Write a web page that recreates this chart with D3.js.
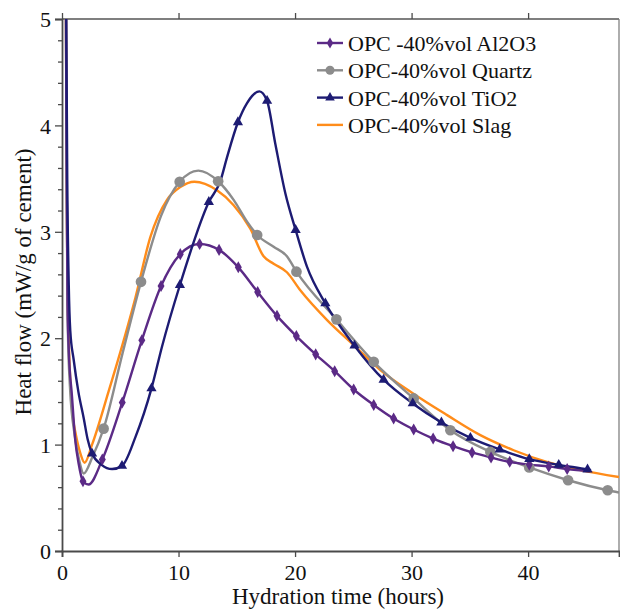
<!DOCTYPE html>
<html><head><meta charset="utf-8">
<script src="https://cdn.jsdelivr.net/npm/d3@7"></script>
<style>body{margin:0;background:#fff}svg{display:block}</style>
</head><body>
<svg id="c" width="620" height="612"></svg>
<script>
// ---- data ----
const seriesNames = ["OPC -40%vol Al2O3","OPC-40%vol Quartz","OPC-40%vol TiO2","OPC-40%vol Slag"];
const xTicks = [0,10,20,30,40];
const yTicks = [0,1,2,3,4,5];

// Al2O3 (purple, diamonds)
const al2o3Markers = [[1.80,0.655],[3.46,0.86],[5.17,1.395],[6.85,1.98],[8.5,2.49],[10.15,2.79],[11.81,2.885],[13.48,2.83],[15.13,2.666],[16.79,2.434],[18.45,2.21],[20.11,2.02],[21.77,1.848],[23.4,1.69],[25.03,1.518],[26.75,1.373],[28.46,1.245],[30.18,1.142],[31.85,1.057],[33.56,0.985],[35.19,0.926],[36.82,0.879],[38.42,0.838],[40.1,0.812],[41.77,0.795],[43.35,0.77]];
const al2o3Extra = [[0.33,5.3],[0.40,3.5],[0.48,2.3],[0.57,1.92],[0.86,1.45],[1.14,1.04],[1.43,0.82],[2.28,0.625],[45.3,0.75]];

// Quartz (gray, circles)
const quartzMarkers = [[3.57,1.15],[6.78,2.53],[10.1,3.47],[13.4,3.475],[16.75,2.97],[20.12,2.625],[23.55,2.177],[26.75,1.778],[30.18,1.434],[33.33,1.135],[36.76,0.931],[40.1,0.785],[43.43,0.665],[46.83,0.571]];
const quartzExtra = [[0.33,5.3],[0.40,3.5],[0.47,2.3],[0.52,2.0],[0.68,1.55],[1.1,1.08],[1.5,0.84],[1.86,0.728],[2.6,0.88],[5.2,1.86],[8.5,3.15],[11.7,3.575],[14.73,3.30],[15.88,3.095],[18.16,2.86],[19.3,2.77],[47.8,0.55]];

// TiO2 (navy, triangles)
const tio2Markers = [[2.58,0.916],[5.15,0.80],[7.68,1.528],[10.12,2.50],[12.6,3.28],[15.1,4.03],[17.6,4.23],[20.05,3.017],[22.6,2.327],[25.1,1.93],[27.6,1.61],[30.1,1.387],[32.56,1.208],[35.05,1.063],[37.56,0.954],[40.1,0.863],[42.63,0.81],[45.1,0.766]];
const tio2Extra = [[0.35,5.3],[0.45,3.5],[0.58,2.5],[0.71,2.07],[1.0,1.8],[1.4,1.5],[1.86,1.25],[2.2,1.05],[3.4,0.81],[4.3,0.77],[6.3,1.07],[8.58,1.92],[13.6,3.48],[14.16,3.70],[15.88,4.21],[16.94,4.32],[18.3,3.83],[19.17,3.36],[21.03,2.67],[45.4,0.76]];

// Slag (orange, no markers)
const slagMarkers = [];
const slagExtra = [[0.33,5.3],[0.38,4.0],[0.43,3.0],[0.5,2.3],[0.57,2.0],[0.71,1.6],[0.94,1.25],[1.14,1.12],[1.57,0.92],[1.94,0.83],[2.58,1.0],[4.0,1.5],[5.4,2.02],[6.3,2.38],[7.58,2.95],[9.01,3.30],[10.15,3.42],[11.36,3.47],[13.3,3.39],[14.73,3.25],[16.16,3.03],[17.3,2.77],[18.16,2.70],[19.3,2.62],[20.45,2.45],[22.75,2.17],[25.03,1.935],[27.32,1.70],[30.0,1.49],[33.05,1.277],[35.9,1.089],[38.76,0.947],[41.6,0.837],[44.5,0.76],[47.8,0.695]];

const colors = ["#5b2a86","#8c8c8c","#1d1b73","#ff8c1a"];
const symbols = [d3.symbolDiamond, d3.symbolCircle, d3.symbolTriangle, null];
const markerSizes = [42, 90, 45, 0];
const legendSizes = [36, 64, 40, 0];

const series = [
  {name:seriesNames[0], markers:al2o3Markers, extra:al2o3Extra},
  {name:seriesNames[1], markers:quartzMarkers, extra:quartzExtra},
  {name:seriesNames[2], markers:tio2Markers, extra:tio2Extra},
  {name:seriesNames[3], markers:slagMarkers, extra:slagExtra}
];

// ---- layout ----
const svg = d3.select("#c");
const L = 62, R = 619, T = 19, B = 551;
const x = d3.scaleLinear().domain([0,47.8]).range([L,R]);
const y = d3.scaleLinear().domain([0,5]).range([B,T]);
const font = "'Liberation Serif','Times New Roman',serif";
const axisCol = "#4a4a4a";

svg.append("defs").append("clipPath").attr("id","clip")
  .append("rect").attr("x",L).attr("y",T).attr("width",R-L).attr("height",B-T);

// frame top & right
svg.append("line").attr("x1",L).attr("x2",R).attr("y1",T).attr("y2",T).attr("stroke","#555").attr("stroke-width",1.5);
svg.append("line").attr("x1",R).attr("x2",R).attr("y1",T).attr("y2",B).attr("stroke","#777").attr("stroke-width",1.2);

// bottom axis
const xAxis = svg.append("g").attr("transform",`translate(0,${B})`)
  .call(d3.axisBottom(x).tickValues(xTicks).tickSize(6).tickPadding(4).tickFormat(d3.format("d")));
// top axis ticks
const xTop = svg.append("g").attr("transform",`translate(0,${T})`)
  .call(d3.axisTop(x).tickValues(xTicks).tickSize(6).tickFormat(""));
xTop.select(".domain").remove();

// left axis minor then major
const yMinor = svg.append("g").attr("transform",`translate(${L},0)`)
  .call(d3.axisLeft(y).tickValues(d3.range(0,5.01,0.2).filter(v=>Math.abs(v-Math.round(v))>1e-6)).tickSize(4).tickFormat(""));
yMinor.select(".domain").remove();
const yAxis = svg.append("g").attr("transform",`translate(${L},0)`)
  .call(d3.axisLeft(y).tickValues(yTicks).tickSize(7).tickPadding(4).tickFormat(d3.format("d")));

svg.selectAll(".domain").attr("stroke",axisCol).attr("stroke-width",1.8);
svg.selectAll(".tick line").attr("stroke",axisCol).attr("stroke-width",1.3);
svg.selectAll(".tick text").attr("font-family",font).attr("font-size",22).attr("fill","#111");
xAxis.selectAll(".tick text").attr("dy","0.85em");
yAxis.selectAll(".tick text").attr("dy","0.35em");

// titles
svg.append("text").attr("x",338).attr("y",604).attr("text-anchor","middle")
  .attr("font-family",font).attr("font-size",23).attr("fill","#111").text("Hydration time (hours)");
svg.append("text").attr("transform","translate(31,282) rotate(-90)").attr("text-anchor","middle")
  .attr("font-family",font).attr("font-size",23).attr("fill","#111").text("Heat flow (mW/g of cement)");

// lines
const line = d3.line().x(d=>x(d[0])).y(d=>y(d[1])).curve(d3.curveMonotoneX);
const plot = svg.append("g").attr("clip-path","url(#clip)");
const order = [3,1,0,2];
order.forEach(i=>{
  const s = series[i];
  const pts = s.markers.concat(s.extra).sort((a,b)=>a[0]-b[0]);
  plot.append("path").datum(pts).attr("d",line).attr("fill","none")
    .attr("stroke",colors[i]).attr("stroke-width",2.4);
});
order.forEach(i=>{
  const s = series[i];
  if(!symbols[i]) return;
  plot.selectAll(null).data(s.markers).enter().append("path")
    .attr("d",d3.symbol().type(symbols[i]).size(markerSizes[i]))
    .attr("transform",d=>`translate(${x(d[0])},${y(d[1])})`)
    .attr("fill",colors[i]);
});

// legend
const lg = svg.append("g");
series.forEach((s,i)=>{
  const cy = 43 + i*27.3;
  lg.append("line").attr("x1",317).attr("x2",343).attr("y1",cy).attr("y2",cy)
    .attr("stroke",colors[i]).attr("stroke-width",2.4);
  if(symbols[i]){
    lg.append("path").attr("d",d3.symbol().type(symbols[i]).size(legendSizes[i]))
      .attr("transform",`translate(330,${cy})`).attr("fill",colors[i]);
  }
  lg.append("text").attr("x",348).attr("y",cy+8).attr("font-family",font)
    .attr("font-size",22).attr("fill","#111").text(s.name);
});
</script>
</body></html>
